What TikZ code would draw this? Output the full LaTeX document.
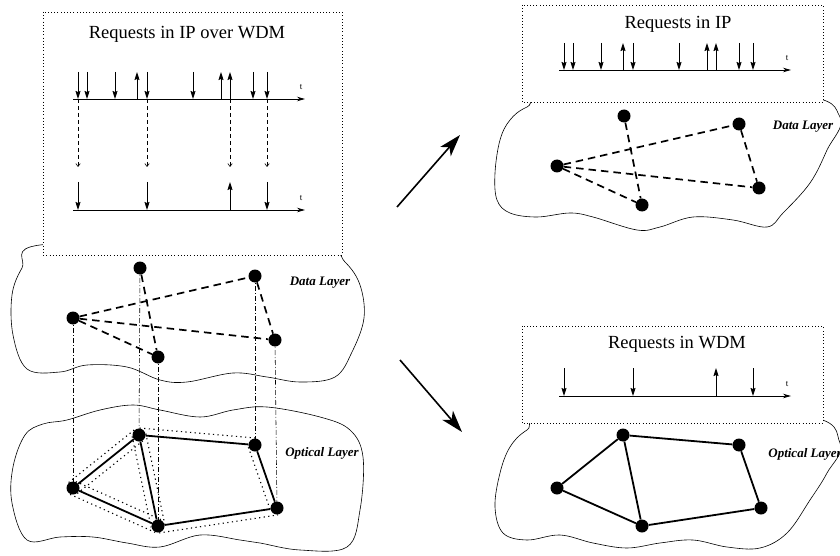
\documentclass[tikz,border=0pt]{standalone}
\usepackage{fontspec}
\setmainfont{Liberation Serif}
\usepackage{tikz}
\usetikzlibrary{positioning, calc, arrows.meta}

\begin{document}
\begin{tikzpicture}[x=1pt, y=-1pt,
  netnode/.style={circle, fill=black, inner sep=0pt, minimum size=13pt},
  datalink/.style={line width=1.7pt, dash pattern=on 7.5pt off 5pt},
  fibre/.style={line width=1.8pt},
  lightpath/.style={line width=1.1pt, dash pattern=on 1.2pt off 3.4pt},
  projection/.style={line width=0.55pt, dash pattern=on 5pt off 2pt on 1pt off 2pt},
  reqbox/.style={draw, fill=white, line width=0.8pt, dash pattern=on 0.8pt off 2.4pt},
  layer/.style={draw, line width=0.6pt},
  timeaxis/.style={line width=0.8pt, -{Stealth[length=8pt, width=4.5pt, inset=2.5pt]}},
  req/.style={line width=0.9pt, -{Stealth[length=8pt, width=5pt, inset=1pt]}},
  mapdown/.style={line width=0.6pt, dash pattern=on 4pt off 3pt,
    -{Straight Barb[length=3pt, width=4.5pt]}},
  bigarrow/.style={line width=1.6pt, -{Stealth[length=22pt, width=14pt, inset=6pt]}},
  tlabel/.style={font=\fontsize{9}{9}\selectfont, inner sep=0pt},
  boxtitle/.style={font=\fontsize{18.5}{19}\selectfont, inner sep=0pt},
  layerlbl/.style={font=\fontsize{13}{13}\selectfont\bfseries\itshape, inner sep=0pt}]

  \useasboundingbox (0,0) rectangle (840,556);

  %% layer outlines
  \draw[layer] plot[smooth cycle, tension=0.6] coordinates {
    (40,245) (200,245) (320,245) (345,262) (360,285) (364,318) (352,352)
    (335,377) (300,382) (267,377) (233,373) (187,382) (160,380) (127,367)
    (87,365) (60,372) (27,369) (13,335) (12,295) (22,268)};
  \draw[layer] plot[smooth cycle, tension=0.6] coordinates {
    (43,424) (67,420) (100,410) (133,405) (160,410) (200,417) (233,410)
    (267,407) (320,417) (350,430) (363,457) (360,510) (347,547) (300,550)
    (260,543) (240,540) (200,535) (160,547) (127,543) (93,537) (60,537)
    (27,540) (12,503) (13,467) (25,435)};
  \draw[layer] plot[smooth cycle, tension=0.6] coordinates {
    (563,95) (793,95) (840,117) (827,150) (810,183) (783,213) (767,227)
    (733,220) (693,217) (660,227) (637,230) (593,217) (570,213) (537,217)
    (510,213) (497,200) (495,173) (500,140) (510,120) (527,107)};
  \draw[layer] plot[smooth cycle, tension=0.6] coordinates {
    (560,415) (797,415) (840,443) (827,473) (810,500) (787,533) (760,548)
    (727,547) (693,540) (660,543) (627,548) (593,543) (560,535) (527,540)
    (503,533) (495,507) (500,473) (510,447) (527,430)};

  %% request boxes
  \draw[reqbox] (43,12) rectangle (342,255);
  \draw[reqbox] (522,5) rectangle (823,102);
  \draw[reqbox] (522,326) rectangle (823,423);

  \node[boxtitle] (ipwdmTitle) at (187,34) {Requests in IP over WDM};
  \node[boxtitle] (ipTitle) at (678,24) {Requests in IP};
  \node[boxtitle] (wdmTitle) at (677,344) {Requests in WDM};

  %% IP requests (upper time lines)
  \foreach \ox/\oy/\tag in {0/0/ipwdm, 486/-29/ip}{
    \draw[timeaxis] (73+\ox,99+\oy) -- (305+\ox,99+\oy);
    \node[tlabel] (t\tag) at (301+\ox,87+\oy) {t};
    \foreach \t in {78,87,115,147,193,253,267}
      \draw[req] (\t+\ox,72+\oy) -- (\t+\ox,99+\oy);
    \foreach \t in {137,221,230}
      \draw[req] (\t+\ox,99+\oy) -- (\t+\ox,72+\oy);
  }
  %% WDM requests (lower time lines)
  \foreach \ox/\oy/\tag in {0/0/wdmlow, 486/186/wdm}{
    \draw[timeaxis] (73+\ox,210+\oy) -- (305+\ox,210+\oy);
    \node[tlabel] (t\tag) at (301+\ox,198+\oy) {t};
    \foreach \t in {78,147,267}
      \draw[req] (\t+\ox,182+\oy) -- (\t+\ox,210+\oy);
    \draw[req] (230+\ox,210+\oy) -- (230+\ox,182+\oy);
  }
  \foreach \t in {78,147,230,267}
    \draw[mapdown] (\t,99) -- (\t,167);

  %% nodes of both layers
  \foreach \n/\x/\y in {A/140/268, B/255/276, C/73/318, D/275/340, E/158/357}{
    \node[netnode] (d\n) at (\x,\y) {};
    \node[netnode] (rd\n) at (\x+484,\y-152) {};
  }
  \foreach \n/\x/\y in {A/139/435, B/255/445, C/73/488, D/277/508, E/158/526}{
    \node[netnode] (o\n) at (\x,\y) {};
    \node[netnode] (ro\n) at (\x+484,\y) {};
  }

  %% vertical mapping between the layers
  \foreach \n in {A,B,C,D,E}
    \draw[projection] (d\n.center) -- (o\n.center);

  %% lightpaths along the fibres
  \foreach \a/\b/\p/\q in {C/A/90/-90, C/A/-90/90, A/E/90/-90, A/E/-90/90,
                            C/E/90/-90, C/E/-90/90, A/B/90/-90, B/D/-90/90,
                            E/D/-90/90}
    \draw[lightpath] ($(o\a)!7pt!\p:(o\b)$) -- ($(o\b)!7pt!\q:(o\a)$);

  %% links
  \foreach \a/\b in {C/B, C/D, C/E, A/E, B/D}{
    \draw[datalink] (d\a) -- (d\b);
    \draw[datalink] (rd\a) -- (rd\b);
  }
  \foreach \a/\b in {C/A, A/B, B/D, D/E, E/C, A/E}{
    \draw[fibre] (o\a) -- (o\b);
    \draw[fibre] (ro\a) -- (ro\b);
  }

  \node[layerlbl] (dataLbl) at (320,283) {Data Layer};
  \node[layerlbl] (opticLbl) at (322,453) {Optical Layer};
  \node[layerlbl] (rdataLbl) at (803,127) {Data Layer};
  \node[layerlbl] (ropticLbl) at (805,454) {Optical Layer};

  %% split into the two layers
  \coordinate (upFrom) at (397,207);
  \coordinate (upTo) at (460,135);
  \coordinate (downFrom) at (400,360);
  \coordinate (downTo) at (462,432);
  \draw[bigarrow] (upFrom) -- (upTo);
  \draw[bigarrow] (downFrom) -- (downTo);
\end{tikzpicture}
\end{document}
